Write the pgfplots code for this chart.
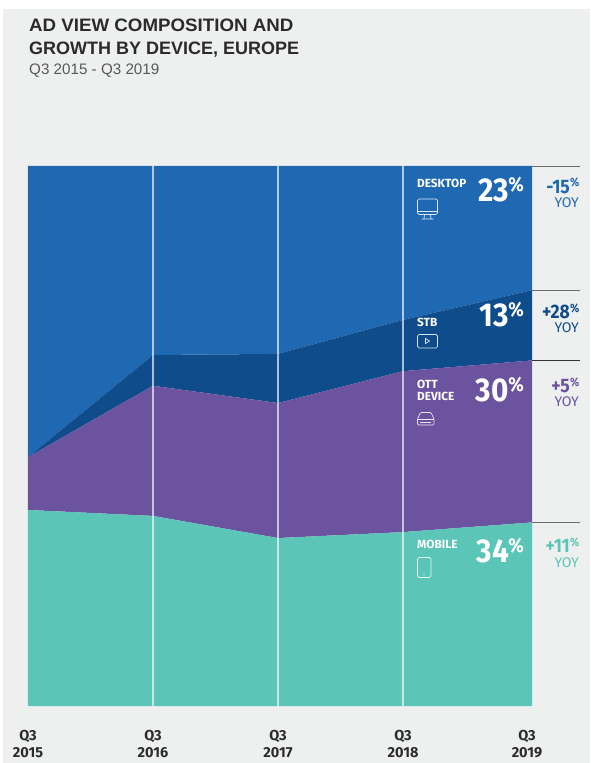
\documentclass[border=0pt]{standalone}
\usepackage{fontspec}
\usepackage{pgfplots}
\pgfplotsset{compat=1.18}
\setmainfont{Liberation Sans}
\newfontfamily\din{Fira Sans}
\newfontfamily\dinc[FakeStretch=0.9]{Fira Sans}
\newfontfamily\headwide[FakeStretch=1.04]{Liberation Sans}
\definecolor{panel}{HTML}{EEF0F0}
\definecolor{cdesktop}{HTML}{1F69B3}
\definecolor{cstb}{HTML}{0F4C8C}
\definecolor{cott}{HTML}{6C53A0}
\definecolor{cmobile}{HTML}{5BC5B7}
\definecolor{ink}{HTML}{2B2B2D}
\begin{document}
\begin{tikzpicture}[x=1pt,y=1pt]
\path[use as bounding box,fill=white] (0,0) rectangle (590,763);
\fill[panel] (3,0) rectangle (590,754);
\begin{axis}[
  at={(28pt,57pt)}, anchor=south west,
  width=504pt, height=540pt, scale only axis,
  xmin=0, xmax=4.032, ymin=0, ymax=100,
  stack plots=y, area style, clip=false, axis on top,
  axis line style={draw=none}, tick style={draw=none},
  ymajorticks=false,
  xtick={1,2,3},
  xticklabels={Q3\\2016,Q3\\2017,Q3\\2018},
  extra x ticks={0,3.992},
  extra x tick labels={Q3\\2015,Q3\\2019},
  extra x tick style={grid=none},
  xmajorgrids,
  grid style={white,opacity=.65,line width=1.1pt},
  xticklabel style={align=center,font=\din\bfseries\fontsize{14.5}{17}\selectfont,text=ink,yshift=-21pt},
]
\addplot[draw=none,fill=cmobile] coordinates {(0,36.3) (1,35.2) (2,31.1) (3,32.2) (4.032,34)} \closedcycle;
\addplot[draw=none,fill=cott] coordinates {(0,9.8) (1,24.1) (2,25.0) (3,29.8) (4.032,30)} \closedcycle;
\addplot[draw=none,fill=cstb] coordinates {(0,0) (1,5.7) (2,9.1) (3,9.5) (4.032,13)} \closedcycle;
\addplot[draw=none,fill=cdesktop] coordinates {(0,53.9) (1,35.0) (2,34.8) (3,28.5) (4.032,23)} \closedcycle;
% leader lines to the growth figures
\draw[gray!85!black,line width=.9pt] (axis cs:4.032,100) -- ++(48pt,0);
\draw[gray!85!black,line width=.9pt] (axis cs:4.032,77) -- ++(48pt,0);
\draw[black!80,line width=.8pt] (axis cs:4.032,64) -- ++(48pt,0);
\draw[gray!85!black,line width=.9pt] (axis cs:4.032,34) -- ++(48pt,0);
\end{axis}
\begin{scope}[shift={(0,763)},y=-1pt,x=1pt]
% heading
\node[anchor=base west,inner sep=0,text=ink,font=\headwide\bfseries\fontsize{18}{20}\selectfont] at (29,32) {AD VIEW COMPOSITION AND};
\node[anchor=base west,inner sep=0,text=ink,font=\bfseries\fontsize{18}{20}\selectfont] at (29,55) {GROWTH BY DEVICE, EUROPE};
\node[anchor=base west,inner sep=0,text=black!65,font=\fontsize{15.2}{18}\selectfont] at (29,75) {Q3 2015 - Q3 2019};
% series names
\tikzset{nm/.style={anchor=base west,inner sep=0,text=white,font=\din\bfseries\fontsize{11.8}{12}\selectfont}}
\node[nm] at (417,188) {DESKTOP};
\node[nm] at (417,327) {STB};
\node[nm] at (417,388.5) {OTT};
\node[nm] at (417,401) {DEVICE};
\node[nm] at (417,549) {MOBILE};
% shares
\tikzset{
  big/.style={anchor=base east,inner sep=0,text=white,font=\dinc\bfseries\fontsize{33}{34}\selectfont},
  bigp/.style={anchor=base east,inner sep=0,text=white,font=\dinc\bfseries\fontsize{20}{20}\selectfont}}
\node[big] at (509,202) {23}; \node[bigp] at (524,192) {\%};
\node[big] at (509,327) {13}; \node[bigp] at (524,317) {\%};
\node[big] at (509,402) {30}; \node[bigp] at (524,392) {\%};
\node[big] at (509,563) {34}; \node[bigp] at (524,553) {\%};
% growth figures
\tikzset{
  gr/.style={anchor=base east,inner sep=0,font=\dinc\bfseries\fontsize{19.5}{20}\selectfont},
  grp/.style={anchor=base east,inner sep=0,font=\dinc\bfseries\fontsize{12}{12}\selectfont},
  yoy/.style={anchor=base east,inner sep=0,font=\din\fontsize{14}{15}\selectfont}}
\node[gr,text=cdesktop] at (570,193.5) {-15}; \node[grp,text=cdesktop] at (579.5,187) {\%};
\node[yoy,text=cdesktop] at (579,208) {YOY};
\node[gr,text=cstb] at (570,319) {+28}; \node[grp,text=cstb] at (579.5,312.5) {\%};
\node[yoy,text=cstb] at (579,333) {YOY};
\node[gr,text=cott] at (570,393) {+5}; \node[grp,text=cott] at (579.5,386.5) {\%};
\node[yoy,text=cott] at (579,407) {YOY};
\node[gr,text=cmobile] at (570,553) {+11}; \node[grp,text=cmobile] at (579.5,546.5) {\%};
\node[yoy,text=cmobile] at (579,568) {YOY};
% device icons
\begin{scope}[draw=white,line width=.7pt,draw opacity=.85]
\draw[rounded corners=1.5pt] (417.5,199) rectangle (437.5,214.5);
\draw (417.5,211) -- (437.5,211);
\draw (424.5,214.5) -- (424,219) (430.5,214.5) -- (431,219) (421.5,219) -- (433.5,219);
\draw[rounded corners=1.5pt] (417.5,334.5) rectangle (437.5,348);
\draw (425.5,338.5) -- (429.5,341) -- (425.5,343.5) -- cycle;
\draw[rounded corners=1pt] (417.5,419) -- (420.5,412.5) -- (431,412.5) -- (434,419) -- (434,425) -- (417.5,425) -- cycle;
\draw (417.5,419) -- (434,419) (420,422) -- (431,422);
\draw[rounded corners=1.5pt] (417.5,557.5) rectangle (431,577.5);
\fill[white] (424,574.5) circle (.6);
\end{scope}
\end{scope}
\end{tikzpicture}
\end{document}
